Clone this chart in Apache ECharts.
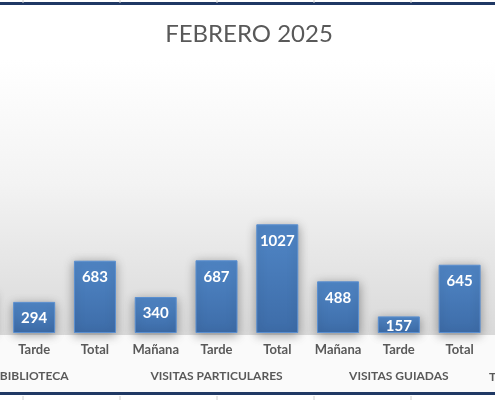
<!DOCTYPE html>
<html lang="es" style="height: 100%">
<head>
    <meta charset="UTF-8">
    <title>FEBRERO 2025</title>
    <script src="https://cdn.jsdelivr.net/npm/echarts@6/dist/echarts.min.js"></script>
</head>
<body style="height: 100%; margin: 0; overflow: hidden; background: #ffffff">
<div id="container" style="position: absolute; left: -57px; top: 0; width: 600px; height: 400px"></div>
</body>

<script type="text/javascript">
    var dom = document.getElementById("container");
    var myChart = echarts.init(dom);

    // datos del mes
    var categorias = ['Mañana', 'Tarde', 'Total', 'Mañana', 'Tarde', 'Total', 'Mañana', 'Tarde', 'Total'];
    var valores = [389, 294, 683, 340, 687, 1027, 488, 157, 645];
    var grupos = ['BIBLIOTECA', 'VISITAS PARTICULARES', 'VISITAS GUIADAS'];

    var gris = '#595959';
    var fuente = 'Lato, "Open Sans", sans-serif';

    // lineas de la hoja de calculo (arriba y abajo)
    var deco = [];
    [23, 120, 217, 314, 411].forEach(function(x) {
        deco.push({type: 'line', shape: {x1: x + 57, y1: 0, x2: x + 57, y2: 3}, style: {stroke: '#d0d0d0', lineWidth: 1}});
        deco.push({type: 'line', shape: {x1: x + 57, y1: 396, x2: x + 57, y2: 400}, style: {stroke: '#d0d0d0', lineWidth: 1}});
    });

    // barras bajas: etiqueta pegada al borde superior
    var datos = valores.map(function(v) {
        return v < 200 ? {value: v, label: {distance: 2}} : v;
    });

    var option = {
        backgroundColor: '#ffffff',
        title: {
            text: 'FEBRERO 2025',
            left: 301,
            top: 17,
            textAlign: 'center',
            textStyle: {
                color: gris,
                fontFamily: fuente,
                fontWeight: 'normal',
                fontSize: 24
            }
        },
        graphic: [{
            type: 'rect',
            z: -10,
            shape: {x: 0, y: 60, width: 600, height: 275},
            style: {
                fill: new echarts.graphic.LinearGradient(0, 0, 0, 1, [
                    {offset: 0, color: '#ffffff'},
                    {offset: 0.45, color: '#f3f3f3'},
                    {offset: 1, color: '#d9d9d9'}
                ])
            }
        }, {
            type: 'rect',
            z: -10,
            shape: {x: 0, y: 335, width: 600, height: 57},
            style: {fill: '#fafafa'}
        }, {
            type: 'rect',
            shape: {x: 0, y: 2, width: 600, height: 3},
            style: {fill: '#1f3864'}
        }, {
            type: 'rect',
            shape: {x: 0, y: 392, width: 600, height: 3},
            style: {fill: '#1f3864'}
        }, {
            type: 'text',
            left: 546,
            top: 371,
            style: {text: 'TOTAL', fill: gris, font: 'bold 12px ' + fuente}
        }].concat(deco),
        grid: {
            left: 0,
            right: 53,
            top: 206,
            bottom: 67
        },
        xAxis: [{
            type: 'category',
            data: categorias,
            axisLine: {show: false},
            axisTick: {show: false},
            axisLabel: {
                margin: 10,
                color: gris,
                fontFamily: fuente,
                fontWeight: 'bold',
                fontSize: 13
            }
        }, {
            type: 'category',
            data: grupos,
            position: 'bottom',
            offset: 27,
            axisLine: {show: false},
            axisTick: {show: false},
            axisLabel: {
                margin: 10,
                color: gris,
                fontFamily: fuente,
                fontWeight: 'bold',
                fontSize: 12
            }
        }],
        yAxis: {
            type: 'value',
            min: 0,
            max: 1200,
            show: false,
            splitLine: {show: false}
        },
        series: [{
            type: 'bar',
            data: datos,
            barWidth: 42,
            itemStyle: {
                color: new echarts.graphic.LinearGradient(0, 0, 0, 1, [
                    {offset: 0, color: '#5086c6'},
                    {offset: 1, color: '#3d6ca8'}
                ]),
                borderColor: '#5a8fd0',
                borderWidth: 1,
                shadowColor: 'rgba(0, 0, 0, 0.35)',
                shadowBlur: 10,
                shadowOffsetY: 2
            },
            label: {
                show: true,
                position: 'insideTop',
                distance: 9,
                color: '#ffffff',
                fontFamily: fuente,
                fontWeight: 'bold',
                fontSize: 15
            }
        }]
    };

    myChart.setOption(option);
</script>
</html>
